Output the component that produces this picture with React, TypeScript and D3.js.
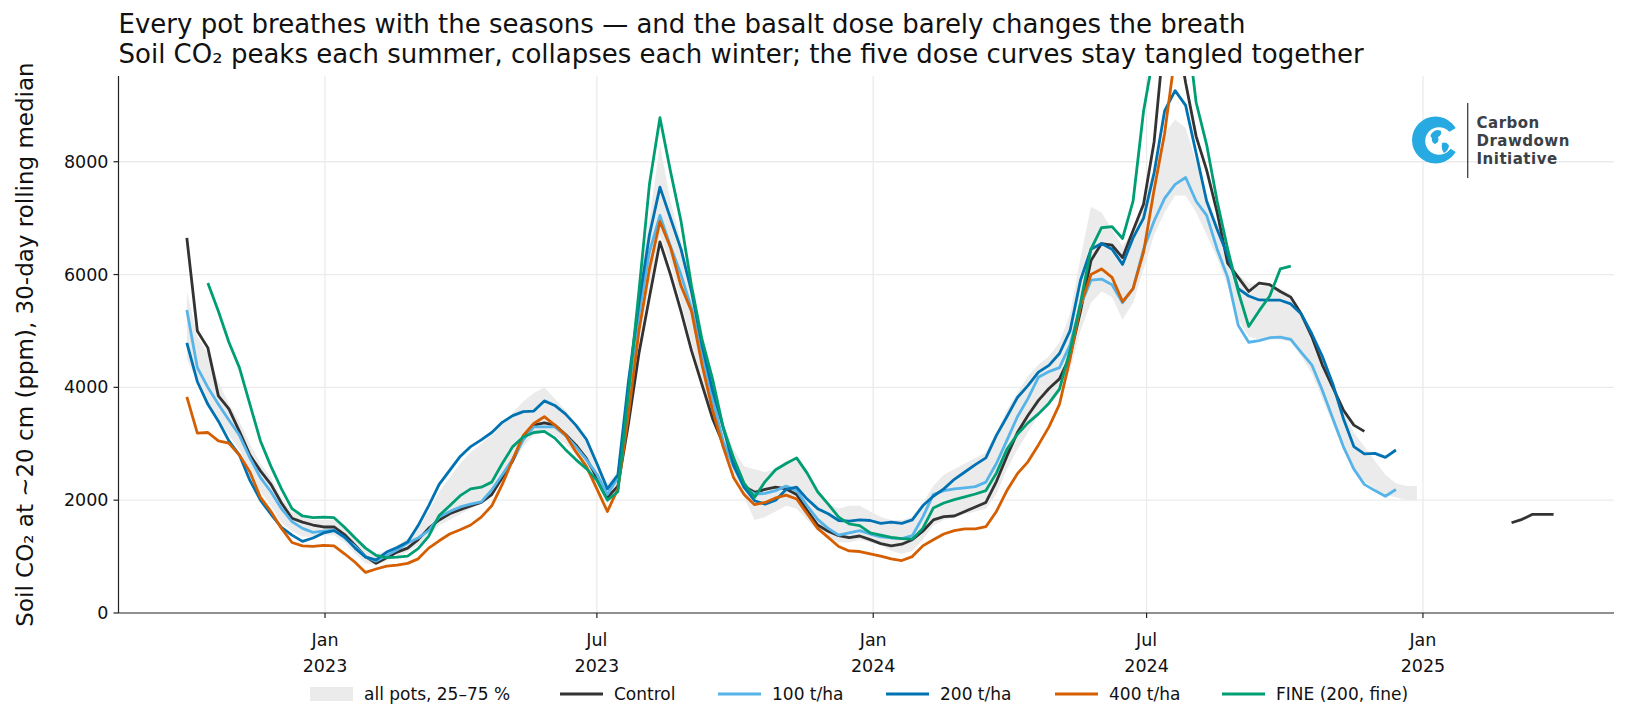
import React from 'react';
import * as d3 from 'd3';

// weekly samples of the 30-day rolling median, starting 1 Oct 2022
const GRID_START = new Date(2022, 9, 1);
const STEP_DAYS = 7;

const control = [
  6650, 5000, 4700, 3850, 3620, 3220, 2800, 2520, 2280, 1950,
  1680, 1610, 1560, 1525, 1525, 1390, 1200, 1000, 880, 980,
  1080, 1150, 1300, 1500, 1650, 1760, 1830, 1900, 1960, 2100,
  2400, 2700, 3100, 3330, 3370, 3330, 3170, 2980, 2740, 2400,
  2050, 2250, 3350, 4600, 5600, 6580, 6000, 5350, 4650, 4050,
  3450, 3000, 2650, 2250, 2140, 2190, 2230, 2200, 2100, 1820,
  1560, 1450, 1370, 1335, 1365, 1300, 1230, 1190, 1220, 1300,
  1450, 1650, 1710, 1720, 1800, 1880, 1960, 2330, 2780, 3200,
  3500, 3770, 3980, 4150, 4550, 5350, 6250, 6550, 6520, 6300,
  6780, 7250, 8350, 10300, 10500, 9400, 8450, 7850, 7100, 6200,
  5950, 5700, 5850, 5820, 5700, 5600, 5300, 4900, 4400, 4000,
  3600, 3330, 3220,
];
const controlLateStart = 126;
const controlLate = [1600, 1660, 1750, 1750, 1750];

const dose100 = [
  5370, 4350, 4000, 3700, 3420, 3150, 2750, 2400, 2150, 1850,
  1620, 1500, 1430, 1450, 1470, 1330, 1180, 1000, 920, 1020,
  1120, 1240, 1330, 1460, 1700, 1800, 1880, 1930, 1970, 2180,
  2450, 2730, 3070, 3300, 3300, 3300, 3150, 2950, 2720, 2460,
  2100, 2400, 3900, 5300, 6400, 7050, 6500, 6000, 5400, 4600,
  3800, 3050, 2600, 2230, 2110, 2120, 2170, 2250, 2170, 1900,
  1660, 1500, 1380, 1420, 1460, 1400, 1350, 1330, 1320, 1370,
  1700, 2100, 2170, 2200, 2220, 2240, 2320, 2650, 3060, 3480,
  3800, 4180, 4280, 4350, 4750, 5450, 5900, 5920, 5820, 5500,
  5750, 6450, 6950, 7350, 7600, 7720, 7300, 7050, 6450, 5950,
  5100, 4800, 4830, 4880, 4890, 4850, 4620, 4400, 3950, 3450,
  2950, 2550, 2280, 2170, 2070, 2190,
];

const dose200 = [
  4790, 4100, 3700, 3400, 3050, 2800, 2350, 2000, 1750, 1520,
  1380, 1270, 1330, 1420, 1460, 1350, 1150, 990, 940, 1080,
  1160, 1260, 1550, 1900, 2280, 2530, 2775, 2950, 3070, 3200,
  3380, 3500, 3570, 3580, 3760, 3680, 3530, 3330, 3080, 2650,
  2200, 2450, 4100, 5500, 6700, 7550, 7000, 6450, 5700, 4750,
  3950, 3300, 2620, 2230, 1990, 1930, 2000, 2190, 2230, 2020,
  1850, 1760, 1640, 1630, 1650, 1640, 1590, 1610, 1590, 1650,
  1900, 2070, 2200, 2370, 2500, 2630, 2750, 3150, 3480, 3820,
  4030, 4270, 4390, 4600, 5000, 5900, 6450, 6550, 6450, 6180,
  6650, 7000, 7800, 8900, 9260, 9000, 8150, 7300, 6800, 6340,
  5750, 5620, 5550, 5545, 5545, 5480, 5300, 4950, 4550, 4060,
  3450, 2950, 2820, 2830, 2760, 2890,
];

const dose400 = [
  3830, 3190, 3200, 3050, 3010, 2800, 2500, 2050, 1800, 1500,
  1250, 1190, 1180, 1200, 1190, 1050, 900, 720, 780, 830,
  850, 880, 960, 1150, 1280, 1400, 1475, 1560, 1700, 1900,
  2280, 2720, 3150, 3360, 3480, 3330, 3160, 2860, 2600, 2200,
  1800, 2200, 3500, 5000, 6100, 6940, 6480, 5800, 5350, 4400,
  3600, 2950, 2400, 2100, 1920, 1960, 2040, 2090, 2020, 1760,
  1500, 1340, 1180, 1100, 1090, 1050, 1010, 960, 930, 1000,
  1190, 1300, 1400, 1460, 1490, 1490, 1530, 1800, 2170, 2470,
  2680, 2980, 3300, 3700, 4500, 5450, 6000, 6100, 5950, 5520,
  5750, 6400, 7500, 8500, 9900,
];

const fineStart = 2;
const fine = [
  5850, 5350, 4800, 4350, 3700, 3050, 2600, 2200,
  1850, 1720, 1690, 1700, 1690, 1520, 1330, 1150, 1020, 980,
  990, 1010, 1140, 1360, 1730, 1900, 2080, 2200, 2230, 2320,
  2650, 2950, 3120, 3200, 3220, 3100, 2900, 2720, 2560, 2350,
  2000, 2150, 3900, 5700, 7600, 8780, 7830, 6950, 5800, 4850,
  4150, 3300, 2750, 2300, 2050, 2330, 2540, 2650, 2750, 2480,
  2150, 1930, 1700, 1580, 1550, 1420, 1380, 1340, 1320, 1310,
  1500, 1860, 1950, 2010, 2060, 2110, 2170, 2480, 2900, 3170,
  3370, 3530, 3720, 3970, 4650, 5500, 6450, 6830, 6850, 6640,
  7300, 8900, 9950, 10800, 11200, 10600, 9050, 8300, 7300, 6450,
  5700, 5080, 5360, 5620, 6100, 6150,
];

// all pots, 25th / 75th percentile
const bandLow = [
  4500, 4100, 3700, 3400, 3150, 2900, 2500, 2150, 1900, 1600,
  1450, 1350, 1350, 1380, 1380, 1250, 1050, 880, 850, 920,
  1000, 1080, 1200, 1350, 1550, 1650, 1750, 1850, 1950, 2100,
  2350, 2650, 2950, 3150, 3200, 3150, 3000, 2800, 2600, 2300,
  1950, 2150, 3400, 4800, 5800, 6700, 6200, 5500, 4800, 4100,
  3500, 2950, 2450, 2050, 1650, 1700, 1800, 1900, 1850, 1650,
  1450, 1350, 1250, 1250, 1300, 1250, 1200, 1100, 1050, 1100,
  1300, 1550, 1650, 1700, 1750, 1800, 1850, 2100, 2550, 2900,
  3200, 3500, 3700, 3900, 4300, 5000, 5500, 5700, 5600, 5200,
  5500, 6100, 6700, 7100, 7400, 7400, 7100, 6700, 6300, 5800,
  5200, 4900, 4850, 4850, 4850, 4800, 4550, 4250, 3800, 3350,
  2900, 2550, 2350, 2200, 2100, 2050, 2000, 2000,
];
const bandHigh = [
  5700, 4900, 4600, 4100, 3700, 3400, 3000, 2650, 2400, 2050,
  1800, 1700, 1650, 1650, 1650, 1500, 1300, 1120, 1050, 1100,
  1200, 1320, 1500, 1800, 2150, 2400, 2650, 2850, 3000, 3150,
  3350, 3550, 3750, 3900, 4000, 3800, 3600, 3350, 3100, 2700,
  2300, 2500, 4100, 5800, 7000, 8300, 7300, 6600, 5800, 4900,
  4100, 3400, 2900, 2600, 2550, 2500, 2550, 2700, 2750, 2450,
  2150, 1950, 1850, 1900, 1900, 1800, 1700, 1650, 1650, 1700,
  1950, 2250, 2450, 2550, 2650, 2750, 2850, 3200, 3600, 3900,
  4200, 4400, 4550, 4800, 5300, 6300, 7200, 7100, 6800, 6500,
  6800, 7300, 7900, 8500, 8750, 8600, 8000, 7400, 6900, 6400,
  6000, 5850, 5800, 5800, 5750, 5650, 5350, 4950, 4500, 4000,
  3600, 3200, 2950, 2700, 2450, 2300, 2250, 2250,
];

const xTicks = [new Date(2023, 0, 1), new Date(2023, 6, 1), new Date(2024, 0, 1), new Date(2024, 6, 1), new Date(2025, 0, 1)];
const xTickMonths = ['Jan', 'Jul', 'Jan', 'Jul', 'Jan'];
const xTickYears = ['2023', '2023', '2024', '2024', '2025'];
const yTicks = [0, 2000, 4000, 6000, 8000];

const COLORS = { control: '#333333', d100: '#56B4E9', d200: '#0072B2', d400: '#D55E00', fine: '#009E73' };

const W = 1631;
const H = 726;
const M = { left: 118.5, right: 1614, top: 76, bottom: 613 };
const FONT = '"DejaVu Sans", sans-serif';

const dateAt = (i: number) => d3.timeDay.offset(GRID_START, i * STEP_DAYS);
const toPoints = (values: number[], start = 0): [Date, number][] =>
  values.map((v, k) => [dateAt(start + k), v]);

const App: React.FC = () => {
  const x = d3
    .scaleTime()
    .domain([new Date(2022, 7, 16, 12), new Date(2025, 4, 8, 5)])
    .range([M.left, M.right]);
  const y = d3.scaleLinear().domain([0, 9520]).range([M.bottom, M.top]);

  const line = d3
    .line<[Date, number]>()
    .x((d) => x(d[0]))
    .y((d) => y(d[1]));

  const band = d3
    .area<number>()
    .x((_, i) => x(dateAt(i)))
    .y0((d) => y(d))
    .y1((_, i) => y(bandHigh[i]));

  const series = [
    { label: 'Control', color: COLORS.control, pts: toPoints(control) },
    { label: '100 t/ha', color: COLORS.d100, pts: toPoints(dose100) },
    { label: '200 t/ha', color: COLORS.d200, pts: toPoints(dose200) },
    { label: '400 t/ha', color: COLORS.d400, pts: toPoints(dose400) },
    { label: 'FINE (200, fine)', color: COLORS.fine, pts: toPoints(fine, fineStart) },
  ];
  const lateControl = toPoints(controlLate, controlLateStart);

  // legend slots (x of handle start)
  const legendY = 694;
  const legendItems = [
    { label: 'all pots, 25–75 %', x: 310, kind: 'patch', color: '#ebebeb' },
    ...series.map((s, i) => ({ label: s.label, x: [560, 718, 886, 1055, 1222][i], kind: 'line', color: s.color })),
  ];

  return (
    <svg
      width={W}
      height={H}
      style={{ display: 'block', position: 'absolute', left: 0, top: 0, background: '#fff' }}
      fontFamily={FONT}
    >
      <defs>
        <clipPath id="plot">
          <rect x={M.left} y={M.top} width={M.right - M.left} height={M.bottom - M.top} />
        </clipPath>
      </defs>

      {/* grid */}
      <g stroke="#ebebeb" strokeWidth={1.3}>
        {xTicks.map((t, i) => (
          <line key={'gx' + i} x1={x(t)} x2={x(t)} y1={M.top} y2={M.bottom} />
        ))}
        {yTicks.slice(1).map((t) => (
          <line key={'gy' + t} x1={M.left} x2={M.right} y1={y(t)} y2={y(t)} />
        ))}
      </g>

      <g clipPath="url(#plot)">
        <path d={band(bandLow) || ''} fill="#ebebeb" />
        {series.map((s) => (
          <path key={s.label} d={line(s.pts) || ''} fill="none" stroke={s.color} strokeWidth={2.8} strokeLinejoin="round" />
        ))}
        <path d={line(lateControl) || ''} fill="none" stroke={COLORS.control} strokeWidth={2.8} strokeLinejoin="round" />
      </g>

      {/* axes */}
      <g stroke="#222" strokeWidth={1.2}>
        <line x1={M.left} x2={M.left} y1={M.top} y2={M.bottom} />
        <line x1={M.left} x2={M.right} y1={M.bottom} y2={M.bottom} />
        {yTicks.map((t) => (
          <line key={'ty' + t} x1={M.left - 5} x2={M.left} y1={y(t)} y2={y(t)} />
        ))}
        {xTicks.map((t, i) => (
          <line key={'tx' + i} x1={x(t)} x2={x(t)} y1={M.bottom} y2={M.bottom + 5} />
        ))}
      </g>
      <g fontSize={17.5} fill="#111">
        {yTicks.map((t) => (
          <text key={'ly' + t} x={M.left - 10} y={y(t)} dy="0.35em" textAnchor="end">
            {t}
          </text>
        ))}
        {xTicks.map((t, i) => (
          <text key={'lx' + i} x={x(t)} textAnchor="middle">
            <tspan x={x(t)} y={646}>{xTickMonths[i]}</tspan>
            <tspan x={x(t)} y={672}>{xTickYears[i]}</tspan>
          </text>
        ))}
      </g>

      <text
        transform={`translate(25,${(M.top + M.bottom) / 2}) rotate(-90)`}
        textAnchor="middle"
        dy="0.35em"
        fontSize={23}
        fill="#111"
      >
        Soil CO₂ at ~20 cm (ppm), 30-day rolling median
      </text>

      <g fontSize={26} fill="#111">
        <text x={M.left} y={33}>Every pot breathes with the seasons — and the basalt dose barely changes the breath</text>
        <text x={M.left} y={63}>Soil CO₂ peaks each summer, collapses each winter; the five dose curves stay tangled together</text>
      </g>

      {/* legend */}
      <g fontSize={17} fill="#111">
        {legendItems.map((it) => (
          <g key={it.label}>
            {it.kind === 'patch' ? (
              <rect x={it.x} y={legendY - 7} width={43} height={14} fill={it.color} />
            ) : (
              <line x1={it.x} x2={it.x + 43} y1={legendY} y2={legendY} stroke={it.color} strokeWidth={2.8} />
            )}
            <text x={it.x + 54} y={legendY} dy="0.35em">
              {it.label}
            </text>
          </g>
        ))}
      </g>

      {/* logo */}
      <g>
        <circle cx={1435.5} cy={140} r={23.5} fill="#27aae1" />
        <path d="M1435.5,140 L1461,125 L1461,155 Z" fill="#fff" />
        <circle cx={1439} cy={141} r={13.8} fill="#fff" />
        <path d="M1432,133 q4,-5 9,-2 q1,4 -3,6 q2,5 -3,7 q-4,-2 -3,-6 q-3,-2 0,-5 Z" fill="#27aae1" />
        <path d="M1442,143 q5,-2 7,3 q-1,5 -5,7 q-3,-4 -2,-10 Z" fill="#27aae1" />
        <line x1={1467.7} x2={1467.7} y1={103} y2={178} stroke="#3a4045" strokeWidth={1.3} />
        <g fontFamily={FONT} fontWeight={700} fontSize={15} letterSpacing={0.5} fill="#3a4045">
          <text x={1476.5} y={127.5}>Carbon</text>
          <text x={1476.5} y={145.5}>Drawdown</text>
          <text x={1476.5} y={163.5}>Initiative</text>
        </g>
      </g>
    </svg>
  );
};

export default App;
